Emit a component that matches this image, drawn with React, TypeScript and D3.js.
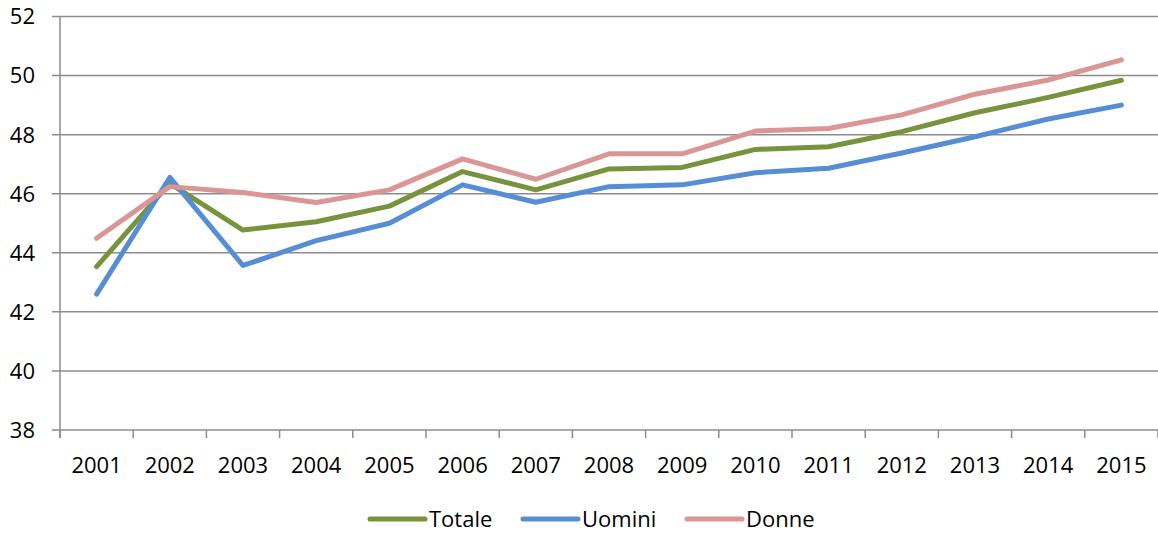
import * as d3 from "d3";

const years = ["2001", "2002", "2003", "2004", "2005", "2006", "2007", "2008", "2009", "2010", "2011", "2012", "2013", "2014", "2015"];
const totale = [43.53, 46.35, 44.77, 45.05, 45.58, 46.75, 46.13, 46.84, 46.89, 47.5, 47.59, 48.1, 48.74, 49.26, 49.84];
const uomini = [42.6, 46.55, 43.57, 44.41, 45.0, 46.3, 45.71, 46.24, 46.3, 46.71, 46.86, 47.38, 47.93, 48.53, 49.0];
const donne = [44.49, 46.24, 46.04, 45.7, 46.13, 47.18, 46.49, 47.35, 47.35, 48.12, 48.21, 48.67, 49.37, 49.85, 50.53];
const yTicks = [38, 40, 42, 44, 46, 48, 50, 52];

const seriesNames = ["Totale", "Uomini", "Donne"];
const seriesColors = ["#77933C", "#558ED5", "#D99694"];

export default function App() {
  const width = 1158;
  const height = 535;
  const marginLeft = 60;
  const marginRight = 0;
  const marginTop = 16.5;
  const bottom = 430;

  const font = "'Open Sans', sans-serif";

  const x = d3.scaleBand().domain(years).range([marginLeft, width - marginRight]);
  const y = d3.scaleLinear().domain([38, 52]).range([bottom, marginTop]);

  const line = d3.line<number>()
    .x((d, i) => (x(years[i]) as number) + x.bandwidth() / 2)
    .y(d => y(d));

  const allSeries = [totale, uomini, donne];
  // draw order in the picture: green, blue, pink on top
  const boundaries = years.map(yr => x(yr) as number).concat([width - marginRight]);

  const legendX = [370, 523, 687];

  return (
    <svg width={width} height={height} style={{ position: "absolute", left: 0, top: 0, background: "#fff" }}>
      {/* horizontal gridlines */}
      <g>
        {yTicks.map(t => (
          <line key={t} x1={marginLeft - 8} x2={width - marginRight} y1={y(t)} y2={y(t)} stroke="#8c8c8c" strokeWidth={1.5} />
        ))}
      </g>
      {/* y axis */}
      <line x1={marginLeft} x2={marginLeft} y1={marginTop} y2={bottom + 8} stroke="#8c8c8c" strokeWidth={1.5} />
      {/* x tick marks */}
      <g>
        {boundaries.map((b, i) => (
          <line key={i} x1={b} x2={b} y1={bottom} y2={bottom + 8} stroke="#8c8c8c" strokeWidth={1.5} />
        ))}
      </g>
      {/* y labels */}
      <g fontFamily={font} fontSize={22} fill="#000" textAnchor="end">
        {yTicks.map(t => (
          <text key={t} x={35} y={y(t)} dy="0.36em">{t}</text>
        ))}
      </g>
      {/* x labels */}
      <g fontFamily={font} fontSize={22} fill="#000" textAnchor="middle">
        {years.map(yr => (
          <text key={yr} x={(x(yr) as number) + x.bandwidth() / 2} y={473}>{yr}</text>
        ))}
      </g>
      {/* series */}
      <g fill="none" strokeWidth={5} strokeLinecap="round" strokeLinejoin="round">
        {allSeries.map((s, i) => (
          <path key={i} d={line(s) ?? ""} stroke={seriesColors[i]} />
        ))}
      </g>
      {/* legend */}
      <g fontFamily={font} fontSize={22} fill="#000">
        {seriesNames.map((n, i) => (
          <g key={n}>
            <line x1={legendX[i]} x2={legendX[i] + 55} y1={519} y2={519} stroke={seriesColors[i]} strokeWidth={5} strokeLinecap="round" />
            <text x={legendX[i] + 59} y={519} dy="0.36em">{n}</text>
          </g>
        ))}
      </g>
    </svg>
  );
}
